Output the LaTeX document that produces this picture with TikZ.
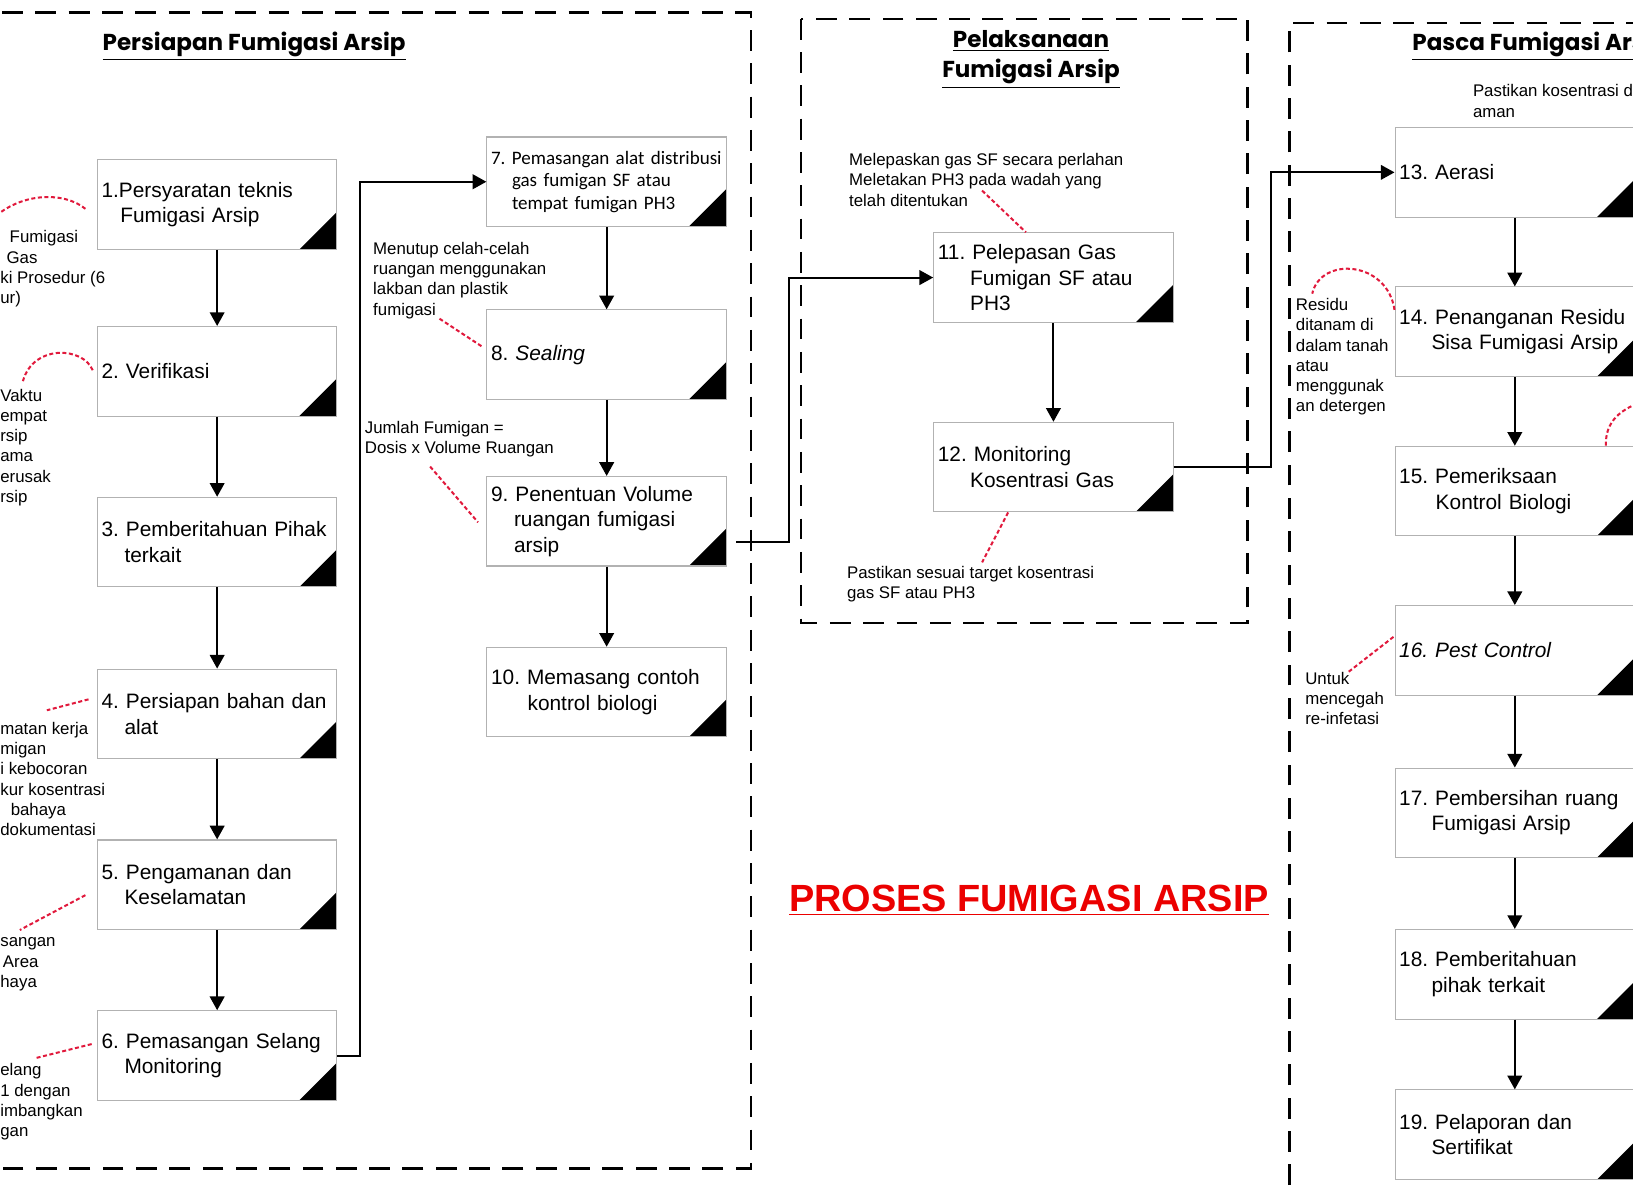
\documentclass[tikz,border=0pt]{standalone}
\usepackage{fontspec}
\setmainfont{Liberation Sans}
\newfontfamily\calibri{Carlito}
\newfontfamily\headfont{Poppins}
\usetikzlibrary{calc,arrows.meta}
\frenchspacing
\hyphenpenalty=10000
\definecolor{notered}{RGB}{225,25,60}
\definecolor{titlered}{RGB}{235,0,0}
\newcommand{\ind}{\hspace*{1.1em}}
\newcommand{\indd}{\hspace*{1.55em}}
\tikzset{stepbox/.style={draw=gray!60, line width=0.6pt, fill=white, anchor=north west,
    minimum height=1.72cm, text width=4.44cm, inner xsep=0.08cm, inner ysep=0pt, align=left,
    font=\fontsize{11.4}{13.9}\selectfont,
    path picture={\fill[black] (path picture bounding box.south east) -- ++(-0.72cm,0) -- ++(0.72cm,0.72cm) -- cycle;}},
  flow/.style={line width=1.1pt, -{Triangle[width=8pt,length=7.5pt]}},
  note/.style={notered, line width=1.1pt, dash pattern=on 2.2pt off 1.4pt},
  notetext/.style={anchor=north west, inner sep=0pt, align=left, font=\fontsize{9.2}{11.1}\selectfont},
  phase/.style={line width=1.3pt, dash pattern=on 0.4cm off 0.24cm},
  heading/.style={font=\headfont\bfseries\fontsize{12.6}{16.5}\selectfont, align=center}}

\begin{document}
\begin{tikzpicture}[x=0.02cm, y=-0.02cm]
\useasboundingbox (0,0) rectangle (1568,1138);
\clip (0,0) rectangle (1568,1138);
\fill[white] (0,0) rectangle (1568,1138);

\draw[phase] (-30,12) -- (721,12) -- (721,1122) -- (-30,1122);
\draw[phase] (769,18) rectangle (1198,598);
\draw[phase] (1238,1170) -- (1238,22) -- (1600,22);

\node[heading] (h1) at (244,44) {\underline{Persiapan Fumigasi Arsip}};
\node[heading] (h2) at (990,57) {\underline{Pelaksanaan}\\\underline{Fumigasi Arsip}};
\node[heading, anchor=west] (h3) at (1350,44) {\underline{Pasca Fumigasi Arsip}};
\node[font=\bfseries\fontsize{20.7}{24}\selectfont, text=titlered] (title) at (988,864) {\underline{PROSES FUMIGASI ARSIP}};

\node[stepbox] (b1) at (93,153) {1.Persyaratan teknis\\\hspace*{0.9em}Fumigasi Arsip};
\node[stepbox] (b2) at (93,313) {2. Verifikasi};
\node[stepbox] (b3) at (93,477) {3. Pemberitahuan Pihak\\\ind terkait};
\node[stepbox] (b4) at (93,642) {4. Persiapan bahan dan\\\ind alat};
\node[stepbox] (b5) at (93,806) {5. Pengamanan dan\\\ind Keselamatan};
\node[stepbox] (b6) at (93,970) {6. Pemasangan Selang\\\ind Monitoring};
\node[stepbox, font=\calibri\fontsize{10.4}{12.2}\selectfont] (b7) at (467,131) {\mbox{7. Pemasangan alat distribusi}\\\ind gas fumigan SF atau\\\ind tempat fumigan PH3};
\node[stepbox] (b8) at (467,297) {8. \textit{Sealing}};
\node[stepbox] (b9) at (467,457) {9. Penentuan Volume\\\ind ruangan fumigasi\\\ind arsip};
\node[stepbox] (b10) at (467,621) {10. Memasang contoh\\\hspace*{1.75em}kontrol biologi};
\node[stepbox] (b11) at (896,223) {11. Pelepasan Gas\\\indd Fumigan SF atau\\\indd PH3};
\node[stepbox] (b12) at (896,405) {12. Monitoring\\\indd Kosentrasi Gas};
\node[stepbox] (b13) at (1339,122) {13. Aerasi};
\node[stepbox] (b14) at (1339,275) {14. Penanganan Residu\\\indd Sisa Fumigasi Arsip};
\node[stepbox] (b15) at (1339,428) {15. Pemeriksaan\\\hspace*{1.75em}Kontrol Biologi};
\node[stepbox] (b16) at (1339,581) {\textit{16. Pest Control}};
\node[stepbox] (b17) at (1339,737) {17. Pembersihan ruang\\\indd Fumigasi Arsip};
\node[stepbox] (b18) at (1339,892) {18. Pemberitahuan\\\indd pihak terkait};
\node[stepbox] (b19) at (1339,1046) {19. Pelaporan dan\\\indd Sertifikat};

\draw[flow] (b1.south) -- (b2.north);
\draw[flow] (b2.south) -- (b3.north);
\draw[flow] (b3.south) -- (b4.north);
\draw[flow] (b4.south) -- (b5.north);
\draw[flow] (b5.south) -- (b6.north);
\draw[flow] (b6.east) -- ++(22,0) |- (b7.west);
\draw[flow] (b7.south) -- (b8.north);
\draw[flow] (b8.south) -- (b9.north);
\draw[flow] (b9.south) -- (b10.north);
\draw[flow] ([xshift=0.18cm,yshift=-0.4cm]b9.east) -- ++(51,0) |- (b11.west);
\draw[flow] (b11.south) -- (b12.north);
\draw[flow] (b12.east) -- ++(93,0) |- (b13.west);
\draw[flow] (b13.south) -- (b14.north);
\draw[flow] (b14.south) -- (b15.north);
\draw[flow] (b15.south) -- (b16.north);
\draw[flow] (b16.south) -- (b17.north);
\draw[flow] (b17.south) -- (b18.north);
\draw[flow] (b18.south) -- (b19.north);

\node[notetext] (n1) at (0,221) {\hspace*{0.18cm}Fumigasi\\\hspace*{0.12cm}Gas\\ki Prosedur (6\\ur)};
\node[notetext] (n2) at (0,373) {Vaktu\\empat\\rsip\\ama\\erusak\\rsip};
\node[notetext] (n4) at (0,693) {matan kerja\\migan\\i kebocoran\\kur kosentrasi\\\hspace*{0.2cm}bahaya\\dokumentasi};
\node[notetext] (n5) at (0,900) {sangan\\\hspace*{0.05cm}Area\\haya};
\node[notetext] (n6) at (0,1021) {elang\\1 dengan\\imbangkan\\gan};
\node[notetext] (n8) at (358,232) {Menutup celah-celah\\ruangan menggunakan\\lakban dan plastik\\fumigasi};
\node[notetext] (n9) at (350,404) {Jumlah Fumigan =\\Dosis x Volume Ruangan};
\node[notetext] (n11) at (815,147) {Melepaskan gas SF secara perlahan\\Meletakan PH3 pada wadah yang\\telah ditentukan};
\node[notetext] (n12) at (813,543) {Pastikan sesuai target kosentrasi\\gas SF atau PH3};
\node[notetext] (n13) at (1414,81) {Pastikan kosentrasi d\\aman};
\node[notetext] (n14) at (1244,286) {Residu\\ditanam di\\dalam tanah\\atau\\menggunak\\an detergen};
\node[notetext] (n16) at (1253,645) {Untuk\\mencegah\\re-infetasi};
\coordinate (c15) at (1580,385);

\draw[note] ($(b1.west)+(-11,4)$) .. controls (62,184) and (20,184) .. ($(n1.north west)+(-8,-10)$);
\draw[note] ($(b2.west)+(-4,-1)$) .. controls (80,333) and (32,330) .. ($(n2.north west)+(22,-7)$);
\draw[note] ($(b4.west)+(-8,-14)$) -- ($(n4.north west)+(45,-11)$);
\draw[note] ($(b5.west)+(-11,10)$) -- ($(n5.north west)+(19,-7)$);
\draw[note] ($(b6.west)+(-5,-11)$) -- ($(n6.north west)+(34,-5)$);
\draw[note] ($(n8.north west)+(64,74)$) -- ($(b8.west)+(-3,-7)$);
\draw[note] ($(n9.north west)+(63,44)$) -- ($(b9.west)+(-8,1)$);
\draw[note] ($(n11.north west)+(128,36)$) -- ($(b11.north west)+(89,0)$);
\draw[note] ($(b12.south west)+(72,0)$) -- ($(n12.north west)+(130,-3)$);
\draw[note] ($(b14.west)+(0,-21)$) .. controls (1332,250) and (1268,246) .. ($(n14.north west)+(16,-4)$);
\draw[note] ($(b15.north west)+(203,0)$) .. controls (1541,405) and (1556,392) .. (c15);
\draw[note] ($(b16.west)+(-1,-13)$) -- ($(n16.north west)+(42,0)$);
\end{tikzpicture}
\end{document}
